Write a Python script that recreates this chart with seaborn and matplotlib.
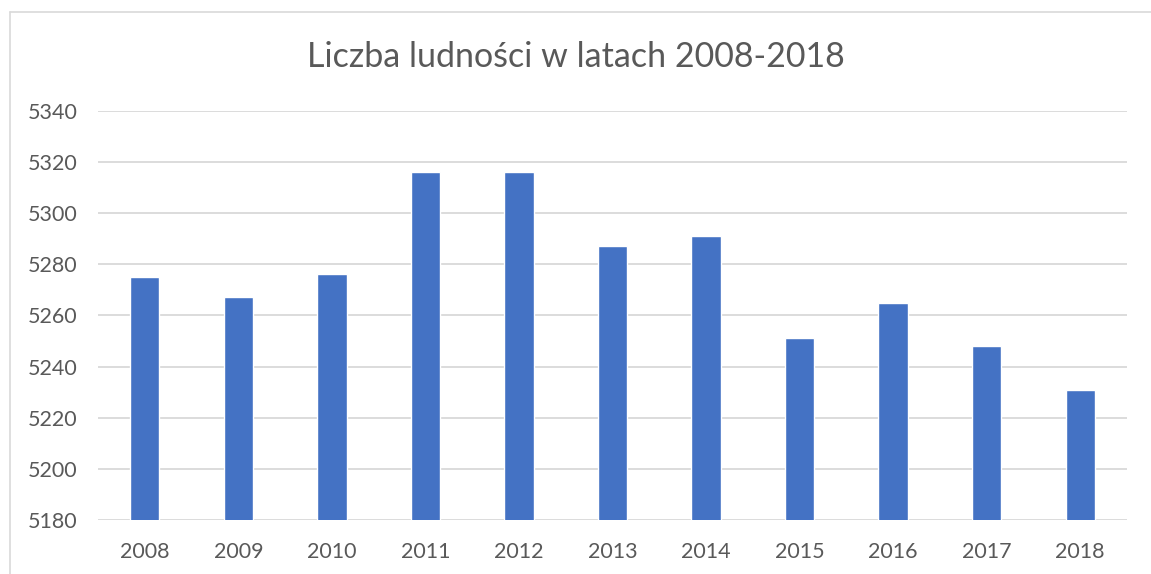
import matplotlib
matplotlib.use("Agg")
import matplotlib.pyplot as plt
import pandas as pd
import seaborn as sns
from matplotlib.lines import Line2D

years = ["2008", "2009", "2010", "2011", "2012", "2013",
         "2014", "2015", "2016", "2017", "2018"]
population = [5275, 5267, 5276, 5316, 5316, 5287, 5291, 5251, 5265, 5248, 5231]
y_ticks = [5180, 5200, 5220, 5240, 5260, 5280, 5300, 5320, 5340]
title = "Liczba ludności w latach 2008-2018"

df = pd.DataFrame({"rok": years, "ludnosc": population})

sns.set_theme(style="white")
plt.rcParams["font.family"] = ["Lato", "DejaVu Sans"]

text_color = "#595959"
grid_color = "#D9D9D9"
bar_color = "#4472C4"

fig = plt.figure(figsize=(11.51, 5.74), dpi=100)
ax = fig.add_axes([98 / 1151, 1 - 520 / 574, (1127 - 98) / 1151, (520 - 110.7) / 574])

sns.barplot(data=df, x="rok", y="ludnosc", color=bar_color, width=0.313,
            saturation=1, ax=ax, zorder=3)

ax.set_ylim(y_ticks[0], y_ticks[-1])
ax.set_yticks(y_ticks)
ax.set_xlim(-0.5, len(years) - 0.5)
ax.grid(axis="y", color=grid_color, linewidth=1.3, zorder=0)
ax.set_axisbelow(True)
for s in ax.spines.values():
    s.set_visible(False)
ax.set_xlabel("")
ax.set_ylabel("")
ax.tick_params(axis="both", length=0, labelsize=15.5, colors=text_color)
ax.tick_params(axis="y", pad=15)
ax.tick_params(axis="x", pad=16)

fig.text(0.5, 1 - 57 / 574, title, ha="center", va="center",
         fontsize=24.5, color=text_color)

# chart area border (top and left visible)
fig.add_artist(Line2D([10 / 1151, 1.0], [1 - 12 / 574, 1 - 12 / 574],
                      transform=fig.transFigure, color=grid_color, linewidth=1.2))
fig.add_artist(Line2D([10 / 1151, 10 / 1151], [0.0, 1 - 12 / 574],
                      transform=fig.transFigure, color=grid_color, linewidth=1.2))

fig.savefig("out.png", dpi=100)
